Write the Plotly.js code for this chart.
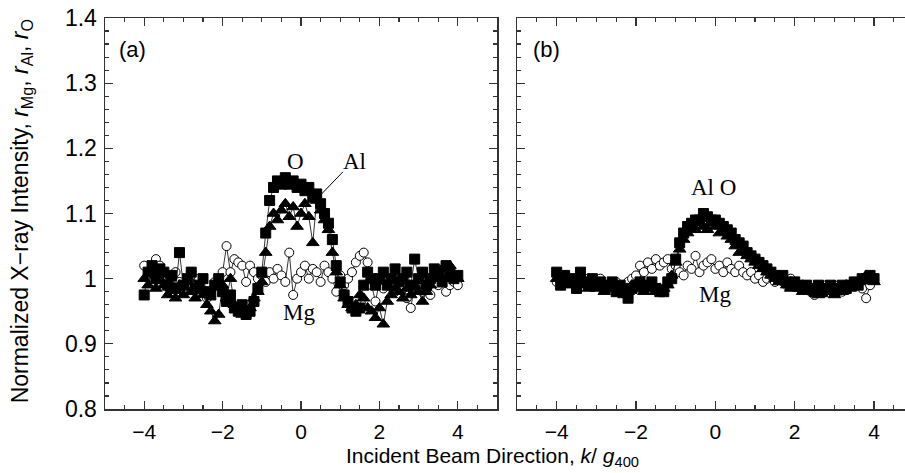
<!DOCTYPE html>
<html>
<head>
<meta charset="utf-8">
<script src="https://cdn.plot.ly/plotly-3.0.1.min.js"></script>
<style>html,body{margin:0;padding:0;background:#fff;}#chart{width:905px;height:473px;}</style>
</head>
<body>
<div id="chart"></div>
<script>
// Incident beam direction k/g400
const kValues = [
 -4.0,-3.9,-3.8,-3.7,-3.6,-3.5,-3.4,-3.3,-3.2,-3.1,
 -3.0,-2.9,-2.8,-2.7,-2.6,-2.5,-2.4,-2.3,-2.2,-2.1,
 -2.0,-1.9,-1.8,-1.7,-1.6,-1.5,-1.4,-1.3,-1.2,-1.1,
 -1.0,-0.9,-0.8,-0.7,-0.6,-0.5,-0.4,-0.3,-0.2,-0.1,
  0.0, 0.1, 0.2, 0.3, 0.4, 0.5, 0.6, 0.7, 0.8, 0.9,
  1.0, 1.1, 1.2, 1.3, 1.4, 1.5, 1.6, 1.7, 1.8, 1.9,
  2.0, 2.1, 2.2, 2.3, 2.4, 2.5, 2.6, 2.7, 2.8, 2.9,
  3.0, 3.1, 3.2, 3.3, 3.4, 3.5, 3.6, 3.7, 3.8, 3.9,
  4.0];

// Panel (a)
const oA = [
 0.975,1.01,1.02,1.00,1.015,1.01,0.99,1.005,0.985,1.04,
 0.99,1.00,1.01,0.985,0.99,1.00,0.98,0.975,0.99,1.00,
 0.98,0.965,0.975,0.955,0.95,0.96,0.945,0.95,0.965,0.985,
 1.01,1.07,1.12,1.14,1.15,1.145,1.155,1.145,1.15,1.14,
 1.145,1.135,1.14,1.125,1.13,1.115,1.10,1.085,1.06,1.02,
 0.995,0.975,0.965,0.955,0.95,0.955,0.99,1.01,1.00,0.99,
 1.00,1.01,0.99,1.00,1.015,0.995,1.00,1.01,0.99,1.03,
 1.00,1.01,0.99,1.00,1.015,1.01,0.995,1.02,1.01,1.00,
 1.005];
const alA = [
 1.00,0.99,1.01,0.985,1.00,0.99,0.975,0.985,0.97,0.99,
 0.975,0.995,0.98,0.97,0.985,0.975,0.96,0.95,0.935,0.945,
 0.99,0.97,1.00,0.96,0.955,0.945,0.95,0.955,0.97,0.98,
 0.995,1.04,1.08,1.10,1.09,1.105,1.115,1.095,1.11,1.08,
 1.10,1.115,1.095,1.055,1.12,1.105,1.09,1.075,1.04,1.01,
 0.99,0.97,0.96,0.955,0.96,0.975,0.97,0.955,0.95,0.94,
 0.955,0.93,0.965,0.975,0.985,0.98,0.97,0.985,0.975,0.99,
 0.98,0.965,0.98,0.99,1.00,1.01,1.015,1.00,1.02,1.005,
 1.00];
const mgA = [
 1.02,1.01,0.995,1.03,1.02,1.01,0.99,1.00,1.01,0.995,
 0.985,1.00,1.01,0.99,1.00,0.98,0.97,0.98,0.995,0.99,
 1.01,1.05,1.01,1.03,1.025,1.02,0.995,1.02,1.01,1.00,
 1.005,0.995,1.01,1.00,1.015,1.005,0.995,1.04,0.975,1.00,
 1.01,1.02,1.00,1.015,1.01,0.995,1.02,1.01,1.00,0.98,
 1.005,0.99,1.00,1.01,1.025,1.035,1.04,1.025,0.99,0.965,
 0.995,0.985,1.00,0.99,0.98,1.00,0.985,0.97,0.955,0.99,
 1.00,0.98,0.995,0.975,1.00,0.99,1.005,0.98,0.99,0.995,
 0.99];

// Panel (b)
const oB = [
 1.01,0.99,1.005,0.995,1.00,0.985,1.01,0.995,0.99,1.00,
 0.99,0.995,0.985,0.99,0.995,0.98,0.99,0.985,0.97,0.985,
 0.99,0.995,0.985,0.99,0.995,0.985,0.98,0.98,0.995,1.00,
 1.03,1.055,1.07,1.08,1.085,1.09,1.09,1.10,1.095,1.09,
 1.09,1.085,1.08,1.075,1.07,1.06,1.055,1.05,1.04,1.035,
 1.03,1.025,1.02,1.015,1.01,1.005,1.00,1.005,0.995,0.99,
 0.995,0.99,0.985,0.99,0.985,0.98,0.99,0.98,0.985,0.99,
 0.98,0.985,0.99,0.985,0.99,0.995,0.99,1.00,1.00,1.005,
 1.00];
const alB = [
 1.00,1.005,0.995,1.00,0.99,0.995,1.00,0.99,0.985,0.995,
 0.985,0.99,0.98,0.985,0.99,0.985,0.98,0.975,0.98,0.99,
 0.985,0.99,0.98,0.985,0.99,0.98,0.985,0.985,0.99,1.005,
 1.025,1.045,1.06,1.07,1.08,1.075,1.085,1.08,1.075,1.085,
 1.08,1.07,1.075,1.065,1.06,1.05,1.04,1.045,1.035,1.03,
 1.025,1.02,1.015,1.01,1.005,1.00,0.995,1.00,0.99,0.985,
 0.99,0.985,0.98,0.985,0.98,0.985,0.975,0.98,0.985,0.98,
 0.975,0.985,0.98,0.99,0.985,0.99,0.995,1.00,1.005,1.00,
 0.995];
const mgB = [
 0.995,1.00,1.005,0.995,1.00,0.99,1.00,0.995,1.00,0.99,
 0.995,1.00,0.99,0.985,0.99,0.995,0.985,0.99,0.995,1.00,
 1.005,1.02,1.01,1.025,1.015,1.03,1.02,1.025,1.03,1.015,
 1.02,1.01,1.005,1.02,1.015,1.035,1.01,1.02,1.025,1.03,
 1.015,1.02,1.01,1.025,1.015,1.01,1.02,1.01,1.005,1.01,
 1.00,1.005,0.995,1.00,1.005,0.995,1.00,0.995,0.99,1.00,
 0.995,0.99,0.985,0.99,0.98,0.975,0.99,0.985,0.99,0.985,
 0.99,0.985,0.98,0.985,0.99,0.995,0.99,0.985,0.97,0.99,
 1.00];

const yTicks = [0.8, 0.9, 1.0, 1.1, 1.2, 1.3, 1.4];
const yTickText = ['0.8', '0.9', '1', '1.1', '1.2', '1.3', '1.4'];
const xTicks = [-4, -2, 0, 2, 4];
const xTickText = ['\u22124', '\u22122', '0', '2', '4'];

const lineStyle = {color: '#000', width: 0.8};
function series(y, sym, size, fill, xa, ya) {
  return {
    x: kValues, y: y, xaxis: xa, yaxis: ya, type: 'scatter', mode: 'lines+markers',
    line: lineStyle,
    marker: {symbol: sym, size: size, color: fill, line: {color: '#000', width: 1}},
    showlegend: false, hoverinfo: 'skip'
  };
}
const data = [
  series(mgA, 'circle', 9, '#fff', 'x', 'y'),
  series(oA, 'square', 10, '#000', 'x', 'y'),
  series(alA, 'triangle-up', 11, '#000', 'x', 'y'),
  series(mgB, 'circle', 9, '#fff', 'x2', 'y2'),
  series(oB, 'square', 10, '#000', 'x2', 'y2'),
  series(alB, 'triangle-up', 11, '#000', 'x2', 'y2')
];

const sans = 'Liberation Sans, Arial, sans-serif';
const serif = 'Liberation Serif, Times New Roman, serif';
const axCommon = {
  showgrid: false, zeroline: false, showline: true, linecolor: '#333', linewidth: 1.5,
  ticks: 'inside', tickcolor: '#333', tickwidth: 1.2, ticklen: 8,
  tickfont: {family: sans, size: 23, color: '#000'}
};
const xTickFont = {family: sans, size: 21, color: '#000'};
const layout = {
  width: 905, height: 473,
  margin: {l: 105, r: 0, t: 18, b: 64},
  paper_bgcolor: '#fff', plot_bgcolor: '#fff',
  xaxis: Object.assign({}, axCommon, {
    domain: [0, 0.49], range: [-5, 5], anchor: 'y', ticklabelstandoff: 3, tickfont: xTickFont,
    tickmode: 'array', tickvals: xTicks, ticktext: xTickText, mirror: 'ticks',
    minor: {tickmode: 'linear', tick0: 0, dtick: 0.5, ticks: 'inside', ticklen: 4, tickcolor: '#333'}
  }),
  yaxis: Object.assign({}, axCommon, {
    range: [0.8, 1.4], anchor: 'x', ticklabelstandoff: 2,
    tickmode: 'array', tickvals: yTicks, ticktext: yTickText, mirror: 'ticks',
    minor: {tickmode: 'linear', tick0: 0.8, dtick: 0.02, ticks: 'inside', ticklen: 4, tickcolor: '#333'}
  }),
  xaxis2: Object.assign({}, axCommon, {
    domain: [0.515, 1], range: [-5, 4.78], anchor: 'y2', ticklabelstandoff: 3, tickfont: xTickFont,
    tickmode: 'array', tickvals: xTicks, ticktext: xTickText, mirror: 'ticks',
    minor: {tickmode: 'linear', tick0: 0, dtick: 0.5, ticks: 'inside', ticklen: 4, tickcolor: '#333'}
  }),
  yaxis2: Object.assign({}, axCommon, {
    range: [0.8, 1.4], anchor: 'x2', showticklabels: false,
    tickmode: 'array', tickvals: yTicks, mirror: false,
    minor: {tickmode: 'linear', tick0: 0.8, dtick: 0.02, ticks: 'inside', ticklen: 4, tickcolor: '#333'}
  }),
  shapes: [
    {type: 'line', xref: 'x', yref: 'y', x0: 1.07, y0: 1.164, x1: 0.51, y1: 1.129,
     line: {color: '#000', width: 1}}
  ],
  annotations: [
    {text: 'Normalized X\u2212ray Intensity, <i>r</i><sub>Mg</sub>, <i>r</i><sub>Al</sub>, <i>r</i><sub>O</sub>',
     xref: 'paper', yref: 'paper', x: -0.104, y: 0.505, textangle: -90, showarrow: false,
     xanchor: 'center', yanchor: 'middle', font: {family: sans, size: 23, color: '#000'}},
    {text: 'Incident Beam Direction, <i>k</i>/ <i>g</i><sub>400</sub>',
     xref: 'paper', yref: 'paper', x: 0.484, y: (409 - 457) / 391, showarrow: false,
     xanchor: 'center', yanchor: 'middle', font: {family: sans, size: 21, color: '#000'}},
    {text: '(a)', xref: 'paper', yref: 'paper', x: (132 - 105) / 800, y: (409 - 50) / 391,
     showarrow: false, xanchor: 'center', yanchor: 'middle', font: {family: sans, size: 22, color: '#000'}},
    {text: '(b)', xref: 'paper', yref: 'paper', x: (546 - 105) / 800, y: (409 - 50) / 391,
     showarrow: false, xanchor: 'center', yanchor: 'middle', font: {family: sans, size: 22, color: '#000'}},
    {text: 'O', xref: 'x', yref: 'y', x: -0.15, y: 1.18, showarrow: false,
     font: {family: serif, size: 23, color: '#000'}},
    {text: 'Al', xref: 'x', yref: 'y', x: 1.37, y: 1.18, showarrow: false,
     font: {family: serif, size: 23, color: '#000'}},
    {text: 'Mg', xref: 'x', yref: 'y', x: -0.05, y: 0.948, showarrow: false,
     font: {family: serif, size: 23, color: '#000'}},
    {text: 'Al O', xref: 'x2', yref: 'y2', x: -0.05, y: 1.14, showarrow: false,
     font: {family: serif, size: 23, color: '#000'}},
    {text: 'Mg', xref: 'x2', yref: 'y2', x: 0.0, y: 0.975, showarrow: false,
     font: {family: serif, size: 23, color: '#000'}}
  ]
};
Plotly.newPlot('chart', data, layout, {displayModeBar: false, staticPlot: true});
</script>
</body>
</html>
